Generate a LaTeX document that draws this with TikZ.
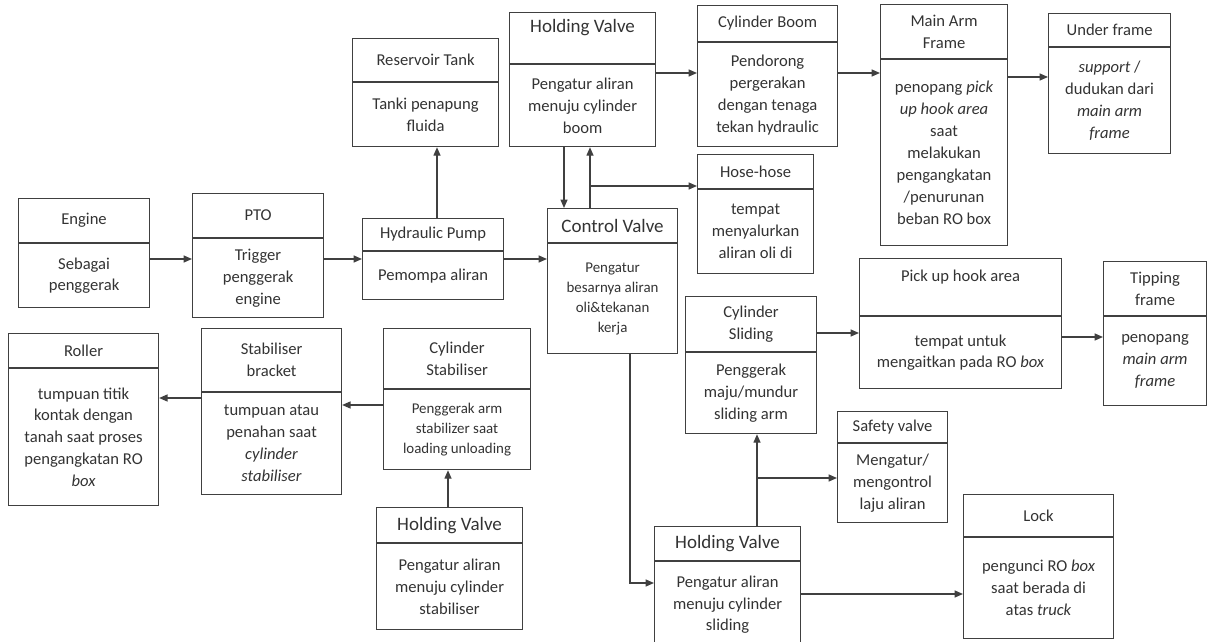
\documentclass[tikz,border=0pt]{standalone}
\usepackage{fontspec}
\setmainfont{Carlito}
\usetikzlibrary{arrows.meta}

\definecolor{garis}{gray}{0.25}
\definecolor{teks}{gray}{0.2}

\tikzset{
	kotak/.style={draw=garis, line width=0.8pt, inner sep=1pt, anchor=north west, align=center, text=teks, font=\fontsize{11.8}{15.6}\selectfont},
	besar/.style={font=\fontsize{13.5}{17}\selectfont},
	kecil/.style={font=\fontsize{10.6}{14.2}\selectfont},
	uk/.style 2 args={minimum width=#1*0.025cm, minimum height=#2*0.025cm},
	panah/.style={draw=garis, line width=0.9pt, -{Triangle[length=6pt,width=5pt]}}
}

\begin{document}
\begin{tikzpicture}[x=0.025cm, y=-0.025cm]
	\useasboundingbox (0,0) rectangle (1208,642);
	% jalur utama
	\node[kotak, uk={131}{44}] (eng) at (18,198) {Engine};
	\node[kotak, uk={131}{64}] (engB) at (eng.south west) {Sebagai\\penggerak};
	\node[kotak, uk={131}{44}] (pto) at (192,193) {PTO};
	\node[kotak, uk={131}{79}] (ptoB) at (pto.south west) {Trigger\\penggerak\\engine};
	\node[kotak, uk={141}{32}] (pump) at (362,218) {Hydraulic Pump};
	\node[kotak, uk={141}{48}] (pumpB) at (pump.south west) {Pemompa aliran};
	\node[kotak, uk={146}{43}] (tank) at (352,38) {Reservoir Tank};
	\node[kotak, uk={146}{64}] (tankB) at (tank.south west) {Tanki penapung\\fluida};
	\node[kotak, besar, uk={130}{34}] (cv) at (547,208) {Control Valve};
	\node[kotak, kecil, uk={130}{110}] (cvB) at (cv.south west) {Pengatur\\besarnya aliran\\oli\&tekanan\\kerja};
	% boom
	\node[kotak, besar, uk={146}{51}] (hvBoom) at (509,12) {Holding Valve\\\mbox{}};
	\node[kotak, uk={146}{82}] (hvBoomB) at (hvBoom.south west) {Pengatur aliran\\menuju cylinder\\boom};
	\node[kotak, uk={140}{36}] (boom) at (697,5) {Cylinder Boom};
	\node[kotak, uk={140}{104}] (boomB) at (boom.south west) {Pendorong\\pergerakan\\dengan tenaga\\tekan hydraulic};
	\node[kotak, uk={116}{34}] (hose) at (697,154) {Hose-hose};
	\node[kotak, uk={116}{84}] (hoseB) at (hose.south west) {tempat\\menyalurkan\\aliran oli di};
	\node[kotak, uk={127}{54}] (arm) at (880,4) {Main Arm\\Frame};
	\node[kotak, uk={127}{186}] (armB) at (arm.south west) {penopang \textit{pick}\\\textit{up hook area}\\saat\\melakukan\\pengangkatan\\/penurunan\\beban RO box};
	\node[kotak, uk={122}{33}] (under) at (1048,13) {Under frame};
	\node[kotak, uk={122}{106}] (underB) at (under.south west) {\textit{support} /\\dudukan dari\\\textit{main arm}\\\textit{frame}};
	% stabiliser
	\node[kotak, uk={150}{34}] (roller) at (8,333) {Roller};
	\node[kotak, uk={150}{137}] (rollerB) at (roller.south west) {tumpuan titik\\kontak dengan\\tanah saat proses\\pengangkatan RO\\\textit{box}};
	\node[kotak, uk={140}{63}] (bracket) at (201,328) {Stabiliser\\bracket};
	\node[kotak, uk={140}{102}] (bracketB) at (bracket.south west) {tumpuan atau\\penahan saat\\\textit{cylinder}\\\textit{stabiliser}};
	\node[kotak, uk={147}{60}] (cylStab) at (383,328) {Cylinder\\Stabiliser};
	\node[kotak, kecil, uk={147}{80}] (cylStabB) at (cylStab.south west) {Penggerak arm\\stabilizer saat\\loading unloading};
	\node[kotak, besar, uk={146}{35}] (hvStab) at (376,507) {Holding Valve};
	\node[kotak, uk={146}{86}] (hvStabB) at (hvStab.south west) {Pengatur aliran\\menuju cylinder\\stabiliser};
	% sliding
	\node[kotak, uk={131}{55}] (cylSlide) at (685,296) {Cylinder\\Sliding};
	\node[kotak, uk={131}{81}] (cylSlideB) at (cylSlide.south west) {Penggerak\\maju/mundur\\sliding arm};
	\node[kotak, uk={202}{57}] (hook) at (859,258) {Pick up hook area\\\mbox{}};
	\node[kotak, uk={202}{72}] (hookB) at (hook.south west) {tempat untuk\\mengaitkan pada RO \textit{box}};
	\node[kotak, uk={103}{54}] (tip) at (1103,261) {Tipping\\frame};
	\node[kotak, uk={103}{89}] (tipB) at (tip.south west) {penopang\\\textit{main arm}\\\textit{frame}};
	\node[kotak, uk={110}{31}] (safety) at (837,411) {Safety valve};
	\node[kotak, uk={110}{79}] (safetyB) at (safety.south west) {Mengatur/\\mengontrol\\laju aliran};
	\node[kotak, besar, uk={146}{34}] (hvSlide) at (654,526) {Holding Valve};
	\node[kotak, uk={146}{86}] (hvSlideB) at (hvSlide.south west) {Pengatur aliran\\menuju cylinder\\sliding};
	\node[kotak, uk={150}{42}] (lock) at (963,494) {Lock};
	\node[kotak, uk={150}{101}] (lockB) at (lock.south west) {pengunci RO \textit{box}\\saat berada di\\atas \textit{truck}};
	\coordinate (cabang1) at (590,186);
	\coordinate (cabang2) at (757,478);
	% panah
	\draw[panah] (engB.east |- 0,259) -- (ptoB.west |- 0,259);
	\draw[panah] (ptoB.east |- 0,259) -- (pumpB.west |- 0,259);
	\draw[panah] (pumpB.east |- 0,259) -- (cvB.west |- 0,259);
	\draw[panah] (pump.north -| 437,0) -- (tankB.south -| 437,0);
	\draw[panah] (hvBoomB.east |- 0,73) -- (boomB.west |- 0,73);
	\draw[panah] (boomB.east |- 0,73) -- (armB.west |- 0,73);
	\draw[panah] (armB.east |- 0,77) -- (underB.west |- 0,77);
	\draw[panah] (hvBoomB.south -| 564,0) -- (cv.north -| 564,0);
	\draw[panah] (cv.north -| 590,0) -- (hvBoomB.south -| 590,0);
	\draw[panah] (cabang1) -- (hose.west |- cabang1);
	\draw[panah] (bracketB.west |- 0,398) -- (rollerB.east |- 0,398);
	\draw[panah] (cylStabB.west |- 0,405) -- (bracketB.east |- 0,405);
	\draw[panah] (hvStab.north -| 448,0) -- (cylStabB.south -| 448,0);
	\draw[panah] (cvB.south -| 630,0) |- (hvSlideB.west |- 0,583);
	\draw[panah] (hvSlide.north -| 757,0) -- (cylSlideB.south -| 757,0);
	\draw[panah] (cabang2) -- (safetyB.west |- cabang2);
	\draw[panah] (hvSlideB.east |- 0,594) -- (lockB.west |- 0,594);
	\draw[panah] (cylSlide.east |- 0,333) -- (hookB.west |- 0,333);
	\draw[panah] (hookB.east |- 0,337) -- (tipB.west |- 0,337);
\end{tikzpicture}
\end{document}
